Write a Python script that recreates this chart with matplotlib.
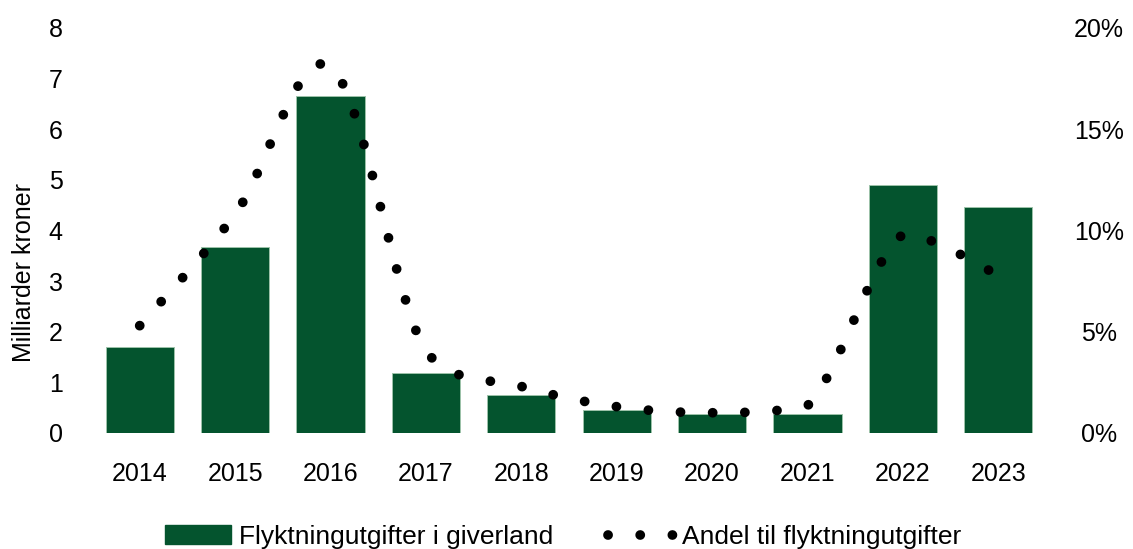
import numpy as np
import matplotlib.pyplot as plt
from matplotlib.path import Path
from matplotlib.patches import PathPatch, Patch
from matplotlib.lines import Line2D

years = ['2014', '2015', '2016', '2017', '2018', '2019', '2020', '2021', '2022', '2023']
bars_mrd = [1.69, 3.67, 6.65, 1.18, 0.75, 0.46, 0.38, 0.38, 4.90, 4.46]
share_pct = [5.3, 10.8, 18.1, 4.0, 2.3, 1.3, 1.0, 1.35, 9.8, 7.8]

green = '#04542e'
plt.rcParams['font.family'] = ['Liberation Sans', 'DejaVu Sans']
fs = 18

fig = plt.figure(figsize=(11.33, 5.49), dpi=100)
ax = fig.add_axes([0.0812, 0.2113, 0.8420, 0.7377])
ax2 = ax.twinx()

x = np.arange(len(years))
ax.bar(x, bars_mrd, width=0.715, color=green, edgecolor='#9cc2a9', linewidth=0.7, zorder=2)
ax.set_xlim(-0.5, len(years) - 0.5)
ax.set_ylim(0, 8)
ax.set_yticks(range(0, 9))
ax.set_xticks(x)
ax.set_xticklabels(years)
ax.set_ylabel('Milliarder kroner', fontsize=fs)
ax.yaxis.set_label_coords(-0.059, 0.397)
ax.tick_params(axis='y', length=0, pad=21, labelsize=fs)
ax.tick_params(axis='x', length=0, pad=21, labelsize=fs)

ax2.set_ylim(0, 20)
ax2.set_yticks(range(0, 21, 5))
ax2.set_yticklabels([f'{v}%' for v in range(0, 21, 5)])
for lab in ax2.get_yticklabels():
    lab.set_horizontalalignment('center')
ax2.tick_params(axis='y', length=0, pad=38, labelsize=fs)

for a in (ax, ax2):
    for s in a.spines.values():
        s.set_visible(False)

# smoothed line through the yearly shares, bezier segments,
# control points kept inside each segment's range (no dips), except at the peak
pts = np.column_stack([x, share_pct]).astype(float)
peak = int(np.argmax(share_pct))
verts = [pts[0]]
codes = [Path.MOVETO]
n = len(pts)
for i in range(n - 1):
    p0 = pts[i - 1] if i > 0 else pts[i]
    p1, p2 = pts[i], pts[i + 1]
    p3 = pts[i + 2] if i + 2 < n else pts[i + 1]
    c1 = p1 + (p2 - p0) / 6
    c2 = p2 - (p3 - p1) / 6
    lo, hi = min(p1[1], p2[1]), max(p1[1], p2[1])
    if i != peak:
        c1[1] = np.clip(c1[1], lo, hi)
    if i + 1 != peak:
        c2[1] = np.clip(c2[1], lo, hi)
    verts += [c1, c2, p2]
    codes += [Path.CURVE4] * 3
dots = (0, (0.01, 3.3))
curve = PathPatch(Path(verts, codes), fill=False, edgecolor='black', linewidth=7,
                  linestyle=dots, capstyle='round', zorder=3)
ax2.add_patch(curve)

handles = [Patch(facecolor=green, edgecolor=green),
           Line2D([], [], color='black', linewidth=7, linestyle=dots,
                  dash_capstyle='round')]
fig.legend(handles, ['Flyktningutgifter i giverland', 'Andel til flyktningutgifter'],
           loc='center', bbox_to_anchor=(0.497, 0.022), ncol=2, frameon=False,
           prop={'size': 19}, handlelength=2.5, handleheight=0.7,
           handletextpad=0.28, columnspacing=2.1)

fig.savefig('out.png', dpi=100)
